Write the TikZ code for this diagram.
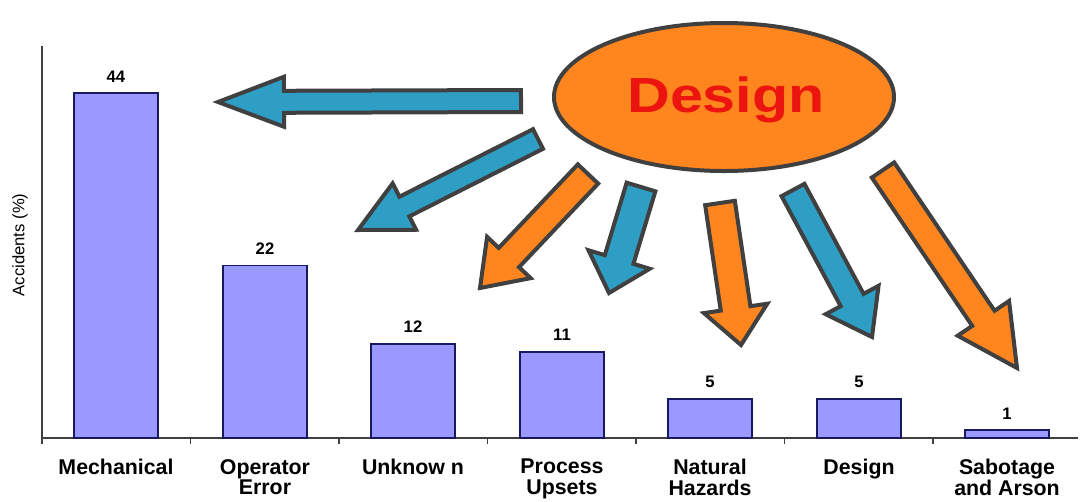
\documentclass[tikz,border=0pt]{standalone}
\usepackage{fontspec}
\setmainfont{Liberation Sans}
\usetikzlibrary{calc}
\definecolor{barfill}{RGB}{153,153,255}
\definecolor{barline}{RGB}{25,25,95}
\definecolor{arrowblue}{RGB}{46,158,196}
\definecolor{arroworange}{RGB}{255,133,30}
\definecolor{outline}{RGB}{64,64,64}
\definecolor{designred}{RGB}{235,20,15}
\tikzset{
  bar/.style={fill=barfill,draw=barline,line width=1.1pt},
  blockblue/.style={fill=arrowblue,draw=outline,line width=3pt,line join=miter},
  blockorange/.style={fill=arroworange,draw=outline,line width=3pt,line join=miter},
  catlabel/.style={font=\fontsize{16}{15.5}\selectfont\bfseries,align=center,anchor=north,inner sep=0pt},
  vallabel/.style={font=\fontsize{12.5}{14}\selectfont\bfseries,anchor=base}
}
% block arrow: style, tail, tip, shaft half width, head half width, head length (px)
\newcommand{\blockarrow}[6]{%
  \coordinate (#2n) at ($(#3)!{#6*0.75pt}!(#2)$);
  \draw[#1] ($(#2)!{#4*0.75pt}!90:(#3)$)
    -- ($(#2n)!{#4*0.75pt}!90:(#3)$)
    -- ($(#2n)!{#5*0.75pt}!90:(#3)$)
    -- (#3)
    -- ($(#2n)!{#5*0.75pt}!-90:(#3)$)
    -- ($(#2n)!{#4*0.75pt}!-90:(#3)$)
    -- ($(#2)!{#4*0.75pt}!-90:(#3)$) -- cycle;
}
\begin{document}
\begin{tikzpicture}[x=0.75pt,y=-0.75pt]
  \useasboundingbox (0,0) rectangle (1080,501);
  % axes
  \draw [line width=1.1pt,color=black!75] (42,46) -- (42,438) -- (1078,438);
  \foreach \i in {0,...,6} {
      \draw [line width=1.1pt,color=black!75] (42+148.5*\i,438) -- (42+148.5*\i,444);
    }
  \node [rotate=90,font=\fontsize{12.5}{14}\selectfont] (ylab) at (20,245) {Accidents (\%)};

  % bars
  \foreach \cx/\v/\name [count=\k] in {116/44/Mechanical, 265/22/{Operator\\Error},
      413/12/{Unknow n}, 562/11/{Process\\Upsets}, 710/5/{Natural\\Hazards},
      859/5/Design, 1007/1/{Sabotage\\and Arson}} {
      \draw [bar] (\cx-42,438) rectangle (\cx+42,438-7.84*\v);
      \node [vallabel] (val\k) at (\cx,427-7.84*\v) {\v};
      \node [catlabel] (cat\k) at (\cx,459) {\name};
    }

  % arrows out of the ellipse
  \coordinate (t1) at (521,101);  \coordinate (h1) at (218,102);
  \coordinate (t2) at (538,139);  \coordinate (h2) at (358,230);
  \coordinate (t3) at (588,174);  \coordinate (h3) at (480,288);
  \coordinate (t4) at (641,187);  \coordinate (h4) at (609,293);
  \coordinate (t5) at (720,203);  \coordinate (h5) at (741,345);
  \coordinate (t6) at (793,190);  \coordinate (h6) at (872,337);
  \coordinate (t7) at (883,170);  \coordinate (h7) at (1017,368);
  \blockarrow{blockblue}{t1}{h1}{11}{25}{66}
  \blockarrow{blockblue}{t2}{h2}{11}{26}{52}
  \blockarrow{blockorange}{t3}{h3}{14}{30}{42}
  \blockarrow{blockblue}{t4}{h4}{15}{32}{35}
  \blockarrow{blockorange}{t5}{h5}{15}{32}{37}
  \blockarrow{blockblue}{t6}{h6}{13}{30}{42}
  \blockarrow{blockorange}{t7}{h7}{13.5}{31}{60}

  % ellipse
  \draw [fill=arroworange,draw=outline,line width=3pt] (724,97) ellipse [x radius=170, y radius=74];
  \node [anchor=base,text=designred,font=\fontsize{37}{40}\selectfont\bfseries] (core) at (726,112)
    {\scalebox{1.2}[1]{Design}};
\end{tikzpicture}
\end{document}
